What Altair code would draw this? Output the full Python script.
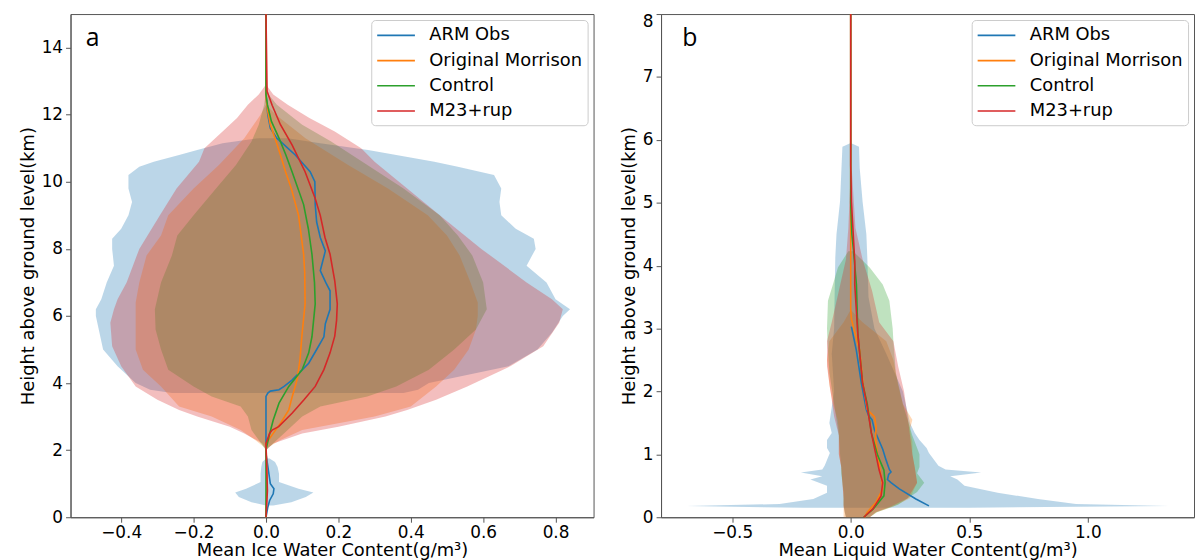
import altair as alt
import pandas as pd

SERIES = ["ARM Obs", "Original Morrison", "Control", "M23+rup"]
COLORS = ["#1f77b4", "#ff7f0e", "#2ca02c", "#d62728"]

# ---------------- Panel a : mean ice water content profiles ----------------
a_obs_h = [0, 0.3, 0.5, 0.7, 0.85, 1.0, 1.3, 1.6, 1.9, 3.6, 3.7, 3.76, 3.8, 3.9, 4.09, 4.59, 5.0, 5.38, 5.77, 6.2, 6.75, 7.0, 7.35, 7.94, 8.34, 8.8, 9.32, 10.0, 10.3, 10.8, 11.3, 11.6, 12.0, 12.6, 15]
a_obs_x = [0, 0.005, 0.01, 0.02, 0.022, 0.012, 0.008, 0.004, 0, 0, 0.005, 0.012, 0.036, 0.05, 0.072, 0.118, 0.14, 0.16, 0.164, 0.177, 0.177, 0.165, 0.15, 0.164, 0.15, 0.14, 0.136, 0.135, 0.122, 0.081, 0.03, 0.012, 0.005, 0, 0]

a_om_h = [0, 1.0, 2.2, 2.5, 2.8, 3.2, 3.5, 3.8, 4.1, 4.7, 5.38, 6.36, 7.3, 7.84, 9.0, 9.8, 10.3, 10.8, 11.3, 11.7, 12.1, 12.5, 15]
a_om_x = [0, 0.003, 0, 0.02, 0.04, 0.063, 0.07, 0.078, 0.086, 0.094, 0.099, 0.108, 0.107, 0.104, 0.09, 0.07, 0.054, 0.04, 0.025, 0.012, 0.005, 0, 0]

a_ctl_h = [0, 2.0, 2.4, 2.9, 3.4, 3.9, 4.4, 4.9, 5.38, 6.36, 7.0, 7.84, 8.6, 9.32, 10.3, 10.8, 11.3, 11.8, 12.3, 12.6, 15]
a_ctl_x = [0, 0, 0.008, 0.02, 0.036, 0.063, 0.1, 0.118, 0.127, 0.136, 0.134, 0.127, 0.117, 0.104, 0.072, 0.055, 0.036, 0.015, 0.004, 0, 0]

a_m23_h = [0, 0.8, 2.2, 2.5, 2.6, 2.7, 3.1, 3.5, 3.9, 4.4, 4.9, 5.4, 5.87, 6.36, 7.05, 7.84, 8.34, 9.0, 9.5, 10.3, 11.1, 11.7, 12.28, 12.7, 15]
a_m23_x = [0, 0.004, 0, 0.01, 0.017, 0.035, 0.072, 0.105, 0.136, 0.16, 0.177, 0.19, 0.195, 0.197, 0.19, 0.177, 0.163, 0.15, 0.136, 0.108, 0.072, 0.04, 0.017, 0.003, 0]

# Panel a shaded spreads (height, lower, upper)
a_obs_band_h = [3.7, 3.8, 4.0, 4.5, 5.0, 5.5, 6.0, 6.2, 6.5, 7.0, 7.5, 8.0, 8.3, 8.6, 9.0, 9.4, 9.8, 10.2, 10.45, 10.6, 10.8, 10.95, 11.15, 11.3]
a_obs_band_lo = [-0.26, -0.32, -0.36, -0.41, -0.45, -0.46, -0.47, -0.47, -0.455, -0.44, -0.42, -0.425, -0.425, -0.40, -0.38, -0.37, -0.38, -0.38, -0.35, -0.31, -0.24, -0.19, -0.12, -0.02]
a_obs_band_hi = [0.38, 0.42, 0.45, 0.67, 0.75, 0.79, 0.82, 0.84, 0.80, 0.775, 0.72, 0.745, 0.74, 0.69, 0.65, 0.645, 0.65, 0.63, 0.53, 0.465, 0.36, 0.282, 0.15, 0.06]

a_obs_low_h = [0.35, 0.45, 0.6, 0.74, 0.85, 1.0, 1.05, 1.3, 1.5, 1.65, 1.75]
a_obs_low_lo = [0.0, -0.04, -0.075, -0.085, -0.055, -0.025, -0.015, -0.015, -0.013, -0.01, 0.0]
a_obs_low_hi = [0.02, 0.07, 0.11, 0.131, 0.09, 0.05, 0.036, 0.036, 0.032, 0.025, 0.01]

a_om_band_h = [2.05, 2.3, 2.6, 3.0, 3.3, 3.9, 4.4, 5.0, 5.6, 6.0, 6.4, 7.0, 7.8, 8.4, 9.0, 9.8, 10.5, 11.3, 12.0, 12.3]
a_om_band_lo = [0, -0.03, -0.07, -0.15, -0.24, -0.29, -0.34, -0.36, -0.36, -0.36, -0.36, -0.35, -0.33, -0.29, -0.27, -0.2, -0.13, -0.06, -0.015, 0]
a_om_band_hi = [0, 0.04, 0.10, 0.30, 0.40, 0.47, 0.52, 0.56, 0.58, 0.585, 0.585, 0.565, 0.535, 0.50, 0.447, 0.337, 0.227, 0.109, 0.027, 0]

a_ctl_band_h = [2.0, 2.3, 2.6, 3.0, 3.3, 3.6, 3.9, 4.4, 5.0, 5.6, 6.2, 7.0, 7.8, 8.4, 9.0, 9.8, 10.5, 11.2, 11.7, 12.3, 12.7]
a_ctl_band_lo = [0, -0.02, -0.04, -0.05, -0.07, -0.15, -0.2, -0.27, -0.29, -0.305, -0.307, -0.29, -0.26, -0.245, -0.20, -0.138, -0.083, -0.04, -0.02, -0.005, 0]
a_ctl_band_hi = [0, 0.03, 0.06, 0.10, 0.15, 0.28, 0.36, 0.45, 0.52, 0.58, 0.61, 0.60, 0.57, 0.53, 0.48, 0.38, 0.28, 0.18, 0.10, 0.03, 0]

a_m23_band_h = [2.0, 2.2, 2.5, 2.7, 3.0, 3.2, 3.5, 3.9, 4.5, 5.1, 5.8, 6.2, 6.5, 7.0, 8.0, 9.0, 9.8, 10.6, 11.0, 11.5, 11.9, 12.3, 12.6, 12.9]
a_m23_band_lo = [0, -0.01, -0.06, -0.1, -0.19, -0.24, -0.3, -0.36, -0.40, -0.425, -0.43, -0.42, -0.41, -0.385, -0.35, -0.293, -0.247, -0.185, -0.17, -0.12, -0.08, -0.05, -0.02, 0]
a_m23_band_hi = [0, 0.02, 0.10, 0.20, 0.33, 0.39, 0.47, 0.556, 0.675, 0.766, 0.81, 0.82, 0.79, 0.72, 0.595, 0.48, 0.39, 0.30, 0.263, 0.19, 0.12, 0.06, 0.02, 0]

# ---------------- Panel b : mean liquid water content profiles ----------------
b_obs_h = [0.18, 0.29, 0.45, 0.55, 0.6, 0.68, 0.72, 0.76, 0.9, 1.08, 1.39, 1.55, 1.62, 1.71, 2.13, 2.65, 3.03]
b_obs_x = [0.33, 0.275, 0.205, 0.17, 0.155, 0.16, 0.17, 0.163, 0.15, 0.135, 0.1, 0.09, 0.075, 0.066, 0.045, 0.024, 0.003]

b_om_h = [0.0, 0.08, 0.24, 0.45, 0.66, 0.98, 1.23, 1.45, 1.6, 1.71, 2.13, 2.65, 2.9, 3.15, 3.3, 8.0]
b_om_x = [0.058, 0.07, 0.107, 0.135, 0.128, 0.114, 0.105, 0.107, 0.1, 0.07, 0.052, 0.038, 0.02, 0.003, 0.0, 0.0]

b_ctl_h = [0.0, 0.13, 0.34, 0.55, 0.75, 0.98, 1.34, 1.8, 2.13, 2.92, 3.7, 4.1, 4.5, 5.0, 8.0]
b_ctl_x = [0.055, 0.095, 0.14, 0.145, 0.14, 0.114, 0.087, 0.07, 0.05, 0.03, 0.024, 0.015, 0.005, 0.0, 0.0]

b_m23_h = [0.0, 0.13, 0.34, 0.55, 0.75, 0.98, 1.34, 1.8, 2.13, 2.92, 3.7, 4.07, 5.02, 5.6, 8.0]
b_m23_x = [0.055, 0.093, 0.128, 0.135, 0.12, 0.107, 0.087, 0.068, 0.05, 0.03, 0.017, 0.017, 0.003, 0.0, 0.0]

b_obs_band_h = [0.15, 0.18, 0.21, 0.29, 0.39, 0.5, 0.6, 0.65, 0.71, 0.76, 0.82, 1.02, 1.1, 1.23, 1.34, 1.5, 2.0, 2.6, 3.0, 3.5, 4.13, 4.5, 5.02, 5.55, 5.89, 5.95]
b_obs_band_lo = [-0.2, -0.69, -0.3, -0.158, -0.1, -0.1, -0.17, -0.12, -0.21, -0.12, -0.11, -0.088, -0.1, -0.1, -0.08, -0.09, -0.07, -0.08, -0.07, -0.068, -0.065, -0.06, -0.045, -0.039, -0.035, 0]
b_obs_band_hi = [0.5, 1.34, 0.95, 0.79, 0.62, 0.48, 0.45, 0.42, 0.55, 0.40, 0.37, 0.33, 0.32, 0.29, 0.27, 0.25, 0.22, 0.15, 0.10, 0.075, 0.07, 0.066, 0.05, 0.038, 0.035, 0]

b_om_band_h = [0.0, 0.08, 0.17, 0.3, 0.55, 0.8, 1.0, 1.2, 1.4, 1.55, 1.8, 2.1, 2.5, 2.8, 3.1, 3.3]
b_om_band_lo = [-0.03, -0.03, -0.03, -0.03, -0.035, -0.04, -0.05, -0.05, -0.05, -0.055, -0.075, -0.09, -0.1, -0.09, -0.03, 0]
b_om_band_hi = [0.08, 0.11, 0.18, 0.25, 0.28, 0.27, 0.26, 0.26, 0.25, 0.26, 0.22, 0.2, 0.18, 0.15, 0.05, 0]

b_ctl_band_h = [0.0, 0.08, 0.2, 0.4, 0.55, 0.7, 0.8, 1.0, 1.3, 1.8, 2.3, 2.8, 3.0, 3.44, 3.7, 3.97, 4.23]
b_ctl_band_lo = [-0.02, -0.025, -0.03, -0.03, -0.035, -0.04, -0.04, -0.045, -0.05, -0.07, -0.09, -0.098, -0.1, -0.096, -0.075, -0.054, -0.01]
b_ctl_band_hi = [0.08, 0.11, 0.2, 0.28, 0.31, 0.28, 0.29, 0.29, 0.26, 0.22, 0.19, 0.18, 0.177, 0.163, 0.135, 0.08, 0.01]

b_m23_band_h = [0.0, 0.08, 0.17, 0.3, 0.55, 0.8, 1.0, 1.3, 1.6, 2.0, 2.4, 2.8, 3.1, 3.6, 4.1, 4.6, 5.5]
b_m23_band_lo = [-0.02, -0.025, -0.03, -0.03, -0.035, -0.04, -0.05, -0.05, -0.07, -0.085, -0.1, -0.1, -0.08, -0.05, -0.02, -0.01, 0]
b_m23_band_hi = [0.08, 0.105, 0.17, 0.24, 0.28, 0.27, 0.26, 0.25, 0.24, 0.225, 0.2, 0.18, 0.12, 0.09, 0.05, 0.02, 0.005]

A_XTICKS = [-0.4, -0.2, 0.0, 0.2, 0.4, 0.6, 0.8]
A_YTICKS = [0, 2, 4, 6, 8, 10, 12, 14]
B_XTICKS = [-0.5, 0.0, 0.5, 1.0]
B_YTICKS = [0, 1, 2, 3, 4, 5, 6, 7, 8]

FONT = "DejaVu Sans"
AX_COLOR = "#555555"


def band(h, lo, hi, seg="1"):
    return pd.DataFrame({"seg": seg, "h": h, "lo": lo, "hi": hi})


def lines_df(series_list, hs, xs):
    frames = []
    for i, (s, h, x) in enumerate(zip(series_list, hs, xs)):
        frames.append(pd.DataFrame({"series": s, "rank": i, "h": h, "x": x}))
    return pd.concat(frames, ignore_index=True)


def panel(bands, line_data, xdom, ydom, xticks, yticks, xtitle, tag, tagx, tagy, w, top_value):
    xscale = alt.Scale(domain=xdom, nice=False, zero=False)
    yscale = alt.Scale(domain=ydom, nice=False, zero=False)
    xaxis = alt.Axis(values=xticks, format=".1f", title=xtitle, grid=False,
                     labelFont=FONT, labelFontSize=17, titleFont=FONT, titleFontSize=18,
                     titleFontWeight="normal", labelColor="black", titleColor="black",
                     tickSize=5, tickColor=AX_COLOR, domainColor=AX_COLOR,
                     labelPadding=2, titlePadding=2)
    yaxis = alt.Axis(values=yticks, format="d", title="Height above ground level(km)",
                     grid=False, labelFont=FONT, labelFontSize=17, titleFont=FONT,
                     titleFontSize=18, titleFontWeight="normal", labelColor="black",
                     titleColor="black", tickSize=5, tickColor=AX_COLOR,
                     domainColor=AX_COLOR, labelPadding=3, titlePadding=4,
                     labelBaseline={"condition": {"test": f"datum.value == {top_value}",
                                                  "value": "top"},
                                    "value": "middle"})
    layers = []
    for color, b in bands:
        layers.append(
            alt.Chart(b).mark_area(orient="horizontal", color=color, fillOpacity=0.3).encode(
                y=alt.Y("h:Q", scale=yscale, axis=yaxis),
                x=alt.X("lo:Q", scale=xscale, axis=xaxis),
                x2="hi:Q",
                detail="seg:N",
            )
        )
    legend = alt.Legend(title=None, orient="top-right", offset=6,
                        symbolType="M-2,0L2,0", symbolSize=361, symbolStrokeWidth=1.6,
                        symbolOffset=9.5, labelFont=FONT, labelFontSize=18,
                        labelColor="black", labelOffset=23, rowPadding=5.4, padding=5,
                        fillColor="white", strokeColor="#cccccc", cornerRadius=4,
                        labelLimit=300)
    layers.append(
        alt.Chart(line_data).mark_line(strokeWidth=1.6).encode(
            y=alt.Y("h:Q", scale=yscale, axis=yaxis),
            x=alt.X("x:Q", scale=xscale, axis=xaxis),
            color=alt.Color("series:N", scale=alt.Scale(domain=SERIES, range=COLORS),
                            legend=legend),
            detail="rank:O",
            order=alt.Order("h:Q"),
        )
    )
    tag_df = pd.DataFrame({"t": [tag], "x": [tagx], "y": [tagy]})
    layers.append(
        alt.Chart(tag_df).mark_text(font="Open Sans", fontSize=25, align="center",
                                    baseline="alphabetic", color="black").encode(
            x=alt.X("x:Q", scale=xscale, axis=xaxis),
            y=alt.Y("y:Q", scale=yscale, axis=yaxis),
            text="t:N",
        )
    )
    return alt.layer(*layers).properties(width=w, height=507)


panel_a = panel(
    [(COLORS[0], band(a_obs_low_h, a_obs_low_lo, a_obs_low_hi, "1")),
     (COLORS[0], band(a_obs_band_h, a_obs_band_lo, a_obs_band_hi, "2")),
     (COLORS[1], band(a_om_band_h, a_om_band_lo, a_om_band_hi)),
     (COLORS[2], band(a_ctl_band_h, a_ctl_band_lo, a_ctl_band_hi)),
     (COLORS[3], band(a_m23_band_h, a_m23_band_lo, a_m23_band_hi))],
    lines_df(SERIES, [a_obs_h, a_om_h, a_ctl_h, a_m23_h], [a_obs_x, a_om_x, a_ctl_x, a_m23_x]),
    [-0.54, 0.905], [0, 15], A_XTICKS, A_YTICKS,
    "Mean Ice Water Content(g/m³)", "a", -0.479, 14.05, 527, 15,
)

panel_b = panel(
    [(COLORS[0], band(b_obs_band_h, b_obs_band_lo, b_obs_band_hi)),
     (COLORS[1], band(b_om_band_h, b_om_band_lo, b_om_band_hi)),
     (COLORS[2], band(b_ctl_band_h, b_ctl_band_lo, b_ctl_band_hi)),
     (COLORS[3], band(b_m23_band_h, b_m23_band_lo, b_m23_band_hi))],
    lines_df(SERIES, [b_obs_h, b_om_h, b_ctl_h, b_m23_h], [b_obs_x, b_om_x, b_ctl_x, b_m23_x]),
    [-0.80, 1.448], [0, 8], B_XTICKS, B_YTICKS,
    "Mean Liquid Water Content(g/m³)", "b", -0.679, 7.5, 537, 8,
)

chart = (
    alt.hconcat(panel_a, panel_b, spacing=25)
    .resolve_scale(x="independent", y="independent", color="independent")
    .resolve_legend(color="independent")
    .configure_view(stroke=AX_COLOR, strokeWidth=1)
    .properties(padding={"left": 10, "top": 0, "right": 0, "bottom": 0}, background="white")
)

chart.save("out.html", embed_options={"renderer": "svg", "actions": False})
